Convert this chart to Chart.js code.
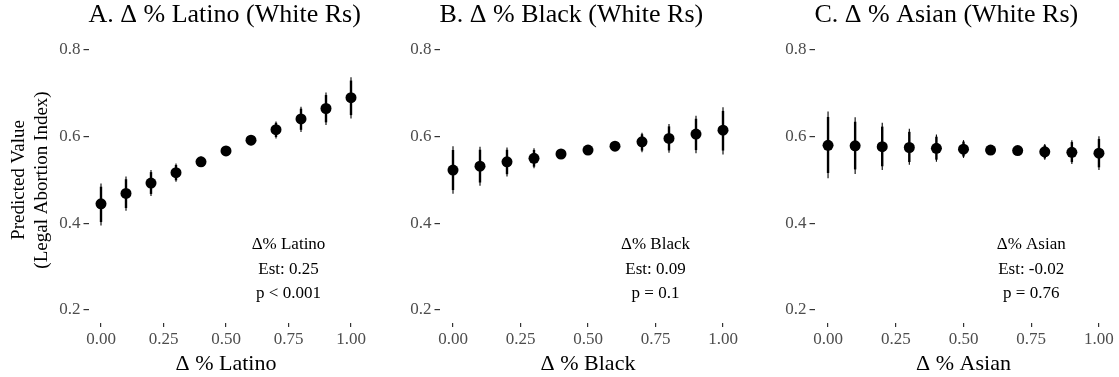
<!DOCTYPE html>
<html>
<head>
<meta charset="utf-8">
<script src="https://cdn.jsdelivr.net/npm/chart.js@4"></script>
<style>
  body { margin: 0; background: #fff; }
  #wrap { position: relative; width: 1119px; height: 377px; }
  canvas { position: absolute; top: 0; }
</style>
</head>
<body>
<div id="wrap">
  <canvas id="pA" width="372" height="377" style="left:0px"></canvas>
  <canvas id="pB" width="374" height="377" style="left:372px"></canvas>
  <canvas id="pC" width="373" height="377" style="left:746px"></canvas>
</div>
<script>
// x values (change in share) and tick labels
const shares = [0, 0.1, 0.2, 0.3, 0.4, 0.5, 0.6, 0.7, 0.8, 0.9, 1.0];
const xTicks = [0, 0.25, 0.5, 0.75, 1.0];
const yTicks = [0.2, 0.4, 0.6, 0.8];

// A. Latino
const latinoEst = [0.445, 0.469, 0.493, 0.517, 0.542, 0.567, 0.592, 0.616, 0.641, 0.665, 0.690];
const latinoLo  = [0.395, 0.429, 0.463, 0.496, 0.530, 0.561, 0.580, 0.596, 0.611, 0.627, 0.642];
const latinoHi  = [0.492, 0.508, 0.523, 0.538, 0.554, 0.573, 0.604, 0.635, 0.669, 0.702, 0.737];
const latinoNote = ['\u0394% Latino', 'Est: 0.25', 'p < 0.001'];

// B. Black
const blackEst = [0.523, 0.532, 0.542, 0.550, 0.560, 0.569, 0.578, 0.588, 0.596, 0.606, 0.615];
const blackLo  = [0.468, 0.487, 0.508, 0.527, 0.550, 0.563, 0.570, 0.564, 0.563, 0.562, 0.559];
const blackHi  = [0.578, 0.577, 0.575, 0.573, 0.570, 0.575, 0.586, 0.609, 0.629, 0.648, 0.668];
const blackNote = ['\u0394% Black', 'Est: 0.09', 'p = 0.1'];

// C. Asian
const asianEst = [0.580, 0.579, 0.577, 0.575, 0.573, 0.571, 0.569, 0.568, 0.565, 0.564, 0.562];
const asianLo  = [0.504, 0.514, 0.523, 0.535, 0.542, 0.551, 0.561, 0.558, 0.547, 0.537, 0.523];
const asianHi  = [0.658, 0.645, 0.632, 0.618, 0.605, 0.592, 0.577, 0.578, 0.583, 0.592, 0.601];
const asianNote = ['\u0394% Asian', 'Est: -0.02', 'p = 0.76'];

const SERIF = "'Liberation Serif', 'DejaVu Serif', serif";
const noteY = [0.351, 0.294, 0.238];

function makePanel(id, opts) {
  const panelPlugin = {
    id: 'panelExtras',
    beforeDatasetsDraw(chart) {
      const c = chart.ctx, xs = chart.scales.x, ys = chart.scales.y;
      c.save();
      c.strokeStyle = '#000';
      c.lineCap = 'butt';
      shares.forEach((v, i) => {
        const px = xs.getPixelForValue(v);
        const lo = opts.lo[i], hi = opts.hi[i], mid = opts.est[i];
        // thin outer interval
        c.lineWidth = 1.1;
        c.beginPath();
        c.moveTo(px, ys.getPixelForValue(lo));
        c.lineTo(px, ys.getPixelForValue(hi));
        c.stroke();
        // thicker inner interval
        c.lineWidth = 2.4;
        c.beginPath();
        c.moveTo(px, ys.getPixelForValue(mid - (mid - lo) * 0.84));
        c.lineTo(px, ys.getPixelForValue(mid + (hi - mid) * 0.84));
        c.stroke();
      });
      c.restore();
    },
    afterDraw(chart) {
      const c = chart.ctx, xs = chart.scales.x, ys = chart.scales.y;
      c.save();
      c.fillStyle = '#000';
      c.textBaseline = 'middle';
      c.textAlign = 'left';
      c.font = '26px ' + SERIF;
      c.fillText(opts.title, chart.chartArea.left, 15);
      c.textAlign = 'center';
      c.font = '17px ' + SERIF;
      opts.note.forEach((t, k) => {
        c.fillText(t, xs.getPixelForValue(0.75), ys.getPixelForValue(noteY[k]));
      });
      c.restore();
    }
  };

  return new Chart(document.getElementById(id), {
    type: 'scatter',
    data: {
      datasets: [{
        data: shares.map((x, i) => ({ x: x, y: opts.est[i] })),
        pointRadius: 5.5,
        pointBackgroundColor: '#000',
        pointBorderWidth: 0,
        showLine: false
      }]
    },
    options: {
      responsive: false,
      devicePixelRatio: 1,
      animation: false,
      layout: { padding: { top: 37, right: opts.padRight, left: 0, bottom: 0 } },
      plugins: { legend: { display: false }, tooltip: { enabled: false }, title: { display: false } },
      scales: {
        x: {
          type: 'linear',
          min: -0.05,
          max: 1.05,
          afterBuildTicks: s => { s.ticks = xTicks.map(v => ({ value: v })); },
          afterFit: s => { s.height = 54; },
          ticks: {
            callback: v => Number(v).toFixed(2),
            font: { family: SERIF, size: 17 },
            color: '#4d4d4d',
            padding: 2,
            maxRotation: 0
          },
          grid: { drawOnChartArea: false, tickLength: 4, color: '#333', lineWidth: 1.2 },
          border: { display: false },
          title: {
            display: true,
            text: opts.xTitle,
            font: { family: SERIF, size: 22 },
            color: '#000',
            padding: { top: 0, bottom: 0 }
          }
        },
        y: {
          min: 0.17,
          max: 0.83,
          afterBuildTicks: s => { s.ticks = yTicks.map(v => ({ value: v })); },
          afterFit: s => { s.width = opts.yWidth; },
          ticks: {
            callback: v => Number(v).toFixed(1),
            font: { family: SERIF, size: 17 },
            color: '#4d4d4d',
            padding: 3
          },
          grid: { drawOnChartArea: false, tickLength: 5, color: '#333', lineWidth: 1.2 },
          border: { display: false },
          title: {
            display: !!opts.yTitle,
            text: opts.yTitle || '',
            font: { family: SERIF, size: 19 },
            color: '#000',
            padding: { top: 8, bottom: 0 }
          }
        }
      }
    },
    plugins: [panelPlugin]
  });
}

makePanel('pA', {
  est: latinoEst, lo: latinoLo, hi: latinoHi, note: latinoNote,
  title: 'A. \u0394 % Latino (White Rs)', xTitle: '\u0394 % Latino',
  yTitle: ['Predicted Value', '(Legal Abortion Index)'],
  yWidth: 88.5, padRight: 8.5
});
makePanel('pB', {
  est: blackEst, lo: blackLo, hi: blackHi, note: blackNote,
  title: 'B. \u0394 % Black (White Rs)', xTitle: '\u0394 % Black',
  yWidth: 67.5, padRight: 9.5
});
makePanel('pC', {
  est: asianEst, lo: asianLo, hi: asianHi, note: asianNote,
  title: 'C. \u0394 % Asian (White Rs)', xTitle: '\u0394 % Asian',
  yWidth: 68.5, padRight: 6.5
});
</script>
</body>
</html>
